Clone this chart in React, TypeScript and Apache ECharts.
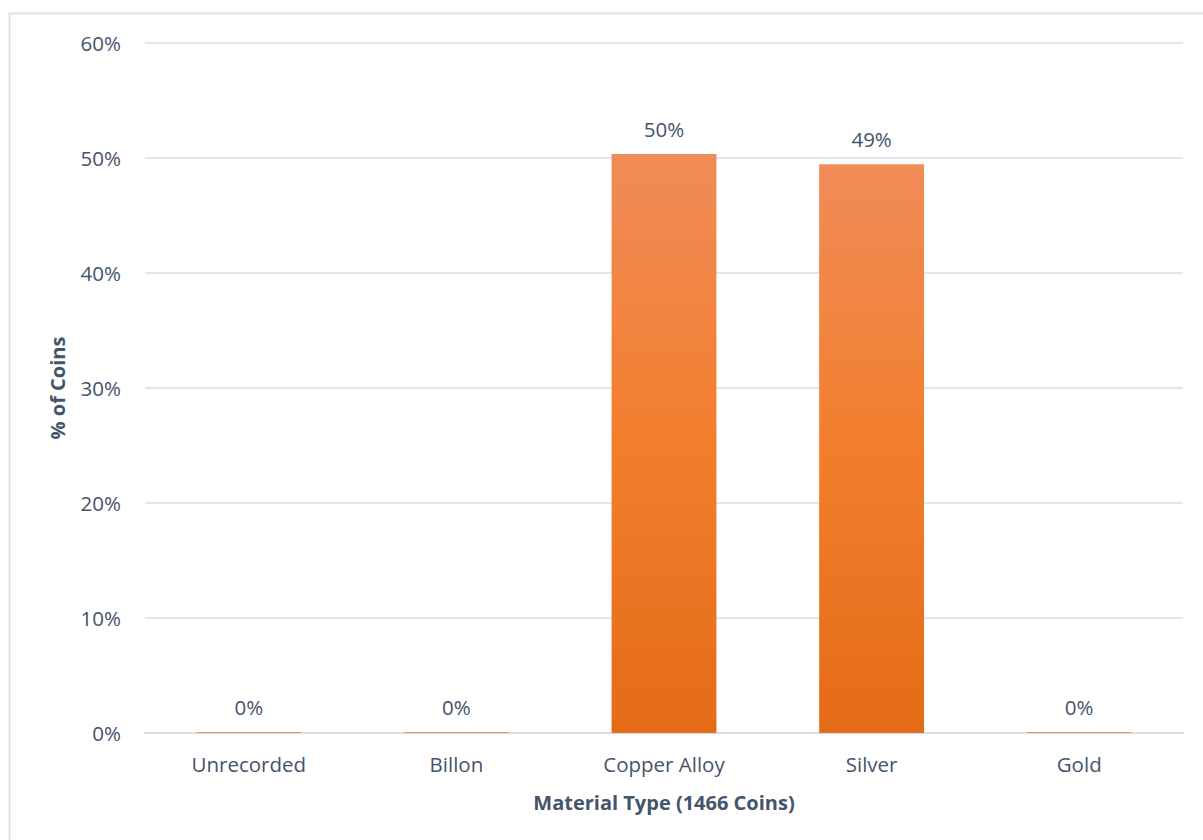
import React, { useEffect, useRef } from "react";
import * as echarts from "echarts";

const categories = ["Unrecorded", "Billon", "Copper Alloy", "Silver", "Gold"];
const percentValues = [0.07, 0.07, 50.34, 49.45, 0.07];
const yTicks = [0, 10, 20, 30, 40, 50, 60];
const yAxisTitle = "% of Coins";
const xAxisTitle = "Material Type (1466 Coins)";

const textColor = "#44546a";
const fontFamily = "'Open Sans', 'Noto Sans', sans-serif";

export default function App() {
  const ref = useRef<HTMLDivElement>(null);
  useEffect(() => {
    if (!ref.current) return;
    const chart = echarts.init(ref.current, null, { renderer: "svg" });
    chart.setOption({
      animation: false,
      backgroundColor: "#ffffff",
      textStyle: { fontFamily },
      graphic: [
        {
          type: "rect",
          shape: { x: 9.5, y: 13.5, width: 1210, height: 840 },
          style: { fill: "none", stroke: "#dde1e8", lineWidth: 2 },
          silent: true,
        },
      ],
      grid: { left: 145, right: 20, top: 43, bottom: 107 },
      xAxis: {
        type: "category",
        data: categories,
        axisTick: { show: false },
        axisLine: { lineStyle: { color: "#d9dde6", width: 2 } },
        axisLabel: { color: textColor, fontSize: 20.5, margin: 20, fontFamily },
        name: xAxisTitle,
        nameLocation: "middle",
        nameGap: 59,
        nameTextStyle: { color: textColor, fontSize: 20, fontWeight: "bold", fontFamily },
      },
      yAxis: {
        type: "value",
        min: yTicks[0],
        max: yTicks[yTicks.length - 1],
        interval: 10,
        axisLabel: {
          color: textColor,
          fontSize: 20.5,
          margin: 24,
          fontFamily,
          formatter: (v: number) => `${v}%`,
        },
        splitLine: { lineStyle: { color: "#d9dde6", width: 1.5 } },
        axisLine: { show: false },
        axisTick: { show: false },
        name: yAxisTitle,
        nameLocation: "middle",
        nameGap: 78,
        nameRotate: 90,
        nameTextStyle: { color: textColor, fontSize: 20, fontWeight: "bold", fontFamily },
      },
      series: [
        {
          type: "bar",
          data: percentValues,
          barWidth: "50.5%",
          itemStyle: {
            color: new echarts.graphic.LinearGradient(0, 0, 0, 1, [
              { offset: 0, color: "#f08c58" },
              { offset: 0.5, color: "#f27e2c" },
              { offset: 1, color: "#e46b18" },
            ]),
          },
          label: {
            show: true,
            position: "top",
            distance: 15,
            color: textColor,
            fontSize: 20.5,
            fontFamily,
            formatter: (p: any) => `${Math.round(p.value)}%`,
          },
        },
      ],
    });
    return () => chart.dispose();
  }, []);
  return (
    <div
      ref={ref}
      style={{ position: "absolute", left: 0, top: 0, width: 1203, height: 840 }}
    />
  );
}
